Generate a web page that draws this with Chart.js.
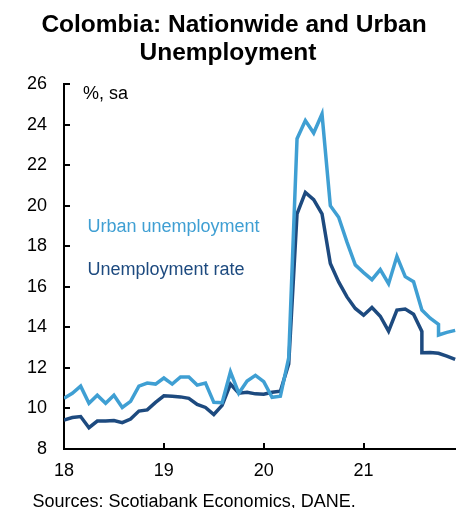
<!DOCTYPE html>
<html><head><meta charset="utf-8">
<script src="https://cdn.jsdelivr.net/npm/chart.js@4"></script>
<style>html,body{margin:0;padding:0;background:#fff;overflow:hidden}#wrap{width:456px;height:508px;position:relative}</style>
</head><body><div id="wrap"><canvas id="c" width="456" height="508"></canvas></div>
<script>
// Month index 0 = Jan 2018
const yearLabels = ['18', '19', '20', '21'];
const yearStartMonths = [0, 12, 24, 36];
const yTickValues = [8, 10, 12, 14, 16, 18, 20, 22, 24, 26];

const urban = [10.5, 10.75, 11.1, 10.25, 10.65, 10.25, 10.65, 10.05, 10.35, 11.1, 11.25, 11.2,
  11.5, 11.2, 11.55, 11.55, 11.15, 11.25, 10.3, 10.28, 11.8, 10.75, 11.35, 11.63,
  11.32, 10.55, 10.6, 12.5, 23.3, 24.2, 23.58, 24.52, 20.0, 19.43, 18.2, 17.08,
  16.7, 16.35, 16.85, 16.15, 17.5, 16.5, 16.25, 14.85, 14.45, 14.15, 13.75, 13.85];
const nationwide = [9.43, 9.55, 9.6, 9.05, 9.38, 9.38, 9.4, 9.3, 9.48, 9.87, 9.93, 10.3,
  10.62, 10.6, 10.57, 10.5, 10.2, 10.05, 9.7, 10.15, 11.2, 10.75, 10.8, 10.72,
  10.7, 10.8, 10.85, 12.2, 19.6, 20.65, 20.3, 19.6, 17.15, 16.24, 15.5, 14.93,
  14.6, 14.98, 14.55, 13.81, 14.85, 14.9, 14.65, 13.8, 12.76, 12.72, 12.58, 12.42];
// series breaks (vertical drop within the same month)
const urbanBreakMonth = 45, urbanBreakValue = 13.62;
const nationBreakMonth = 43, nationBreakValue = 12.75;

const LIGHT = '#3f9fd3';
const DARK = '#1d4a7f';
const FONT = '"Liberation Sans", Arial, sans-serif';

function buildPoints(vals, bm, bv) {
  const pts = [];
  vals.forEach((v, i) => {
    pts.push({x: i, y: v});
    if (i === bm) pts.push({x: i, y: bv});
  });
  return pts;
}

const textPlugin = {
  id: 'texts',
  afterDraw(chart) {
    const ctx = chart.ctx;
    const {left, bottom} = chart.chartArea;
    const xs = chart.scales.x, ys = chart.scales.y;
    ctx.save();
    // inward tick marks
    ctx.strokeStyle = '#000';
    ctx.lineWidth = 2;
    yTickValues.forEach(v => {
      const y = Math.round(ys.getPixelForValue(v));
      ctx.beginPath(); ctx.moveTo(left, y); ctx.lineTo(left + 6, y); ctx.stroke();
    });
    yearStartMonths.forEach(m => {
      const x = Math.round(xs.getPixelForValue(m));
      ctx.beginPath(); ctx.moveTo(x, bottom); ctx.lineTo(x, bottom - 6); ctx.stroke();
    });
    // title
    ctx.fillStyle = '#000';
    ctx.textAlign = 'center';
    ctx.textBaseline = 'alphabetic';
    ctx.font = 'bold 24.5px ' + FONT;
    ctx.fillText('Colombia: Nationwide and Urban', 234, 32);
    ctx.fillText('Unemployment', 228, 60);
    // annotations
    ctx.textAlign = 'left';
    ctx.font = '18px ' + FONT;
    ctx.fillText('%, sa', 83, 99);
    ctx.fillStyle = LIGHT;
    ctx.fillText('Urban unemployment', 87.5, 232);
    ctx.fillStyle = DARK;
    ctx.fillText('Unemployment rate', 87.5, 274.5);
    ctx.fillStyle = '#000';
    ctx.fillText('Sources: Scotiabank Economics, DANE.', 32.5, 507);
    ctx.restore();
  }
};

new Chart(document.getElementById('c'), {
  type: 'line',
  data: {
    datasets: [
      {label: 'Unemployment rate', data: buildPoints(nationwide, nationBreakMonth, nationBreakValue),
       borderColor: DARK, borderWidth: 3.5, pointRadius: 0, tension: 0, fill: false, order: 2},
      {label: 'Urban unemployment', data: buildPoints(urban, urbanBreakMonth, urbanBreakValue),
       borderColor: LIGHT, borderWidth: 3.5, pointRadius: 0, tension: 0, fill: false, order: 1}
    ]
  },
  options: {
    responsive: false,
    animation: false,
    devicePixelRatio: 1,
    layout: {padding: {top: 84, right: 0, bottom: 0, left: 0}},
    plugins: {legend: {display: false}, title: {display: false}, tooltip: {enabled: false}},
    scales: {
      x: {
        type: 'linear', min: 0, max: 47.1,
        afterBuildTicks: s => { s.ticks = yearStartMonths.map(v => ({value: v})); },
        afterFit: s => { s.height = 59; },
        ticks: {
          callback: v => yearLabels[yearStartMonths.indexOf(v)],
          font: {family: FONT, size: 18}, color: '#000', padding: 11,
          maxRotation: 0, autoSkip: false
        },
        grid: {display: false, drawTicks: false},
        border: {display: true, color: '#000', width: 2}
      },
      y: {
        min: 8, max: 26,
        afterBuildTicks: s => { s.ticks = yTickValues.map(v => ({value: v})); },
        afterFit: s => { s.width = 64; },
        ticks: {font: {family: FONT, size: 18}, color: '#000', padding: 17},
        grid: {display: false, drawTicks: false},
        border: {display: true, color: '#000', width: 2}
      }
    }
  },
  plugins: [textPlugin]
});
</script></body></html>
